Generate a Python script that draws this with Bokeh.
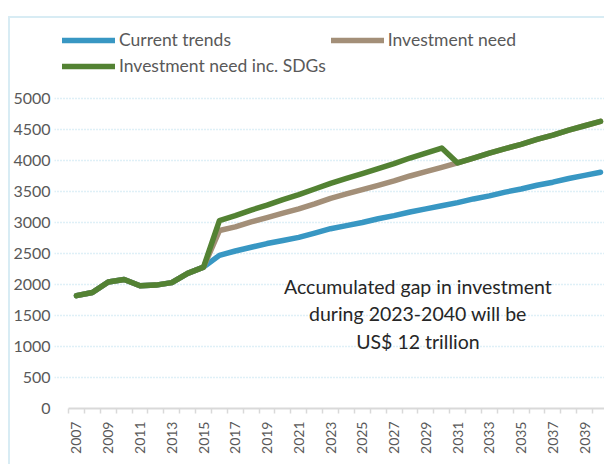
import math
from bokeh.plotting import figure
from bokeh.models import (Range1d, FixedTicker, Legend, LegendItem, Label,
                          ColumnDataSource)
from bokeh.embed import file_html
from bokeh.resources import INLINE

# ---------------- data ----------------
years = list(range(2007, 2041))
history = [1820, 1870, 2040, 2080, 1980, 1990, 2030, 2180, 2280]  # 2007-2015

current_trends = history + [2470, 2540, 2600, 2660, 2710, 2760, 2830, 2900,
                            2950, 3000, 3060, 3110, 3170, 3220, 3270, 3320,
                            3380, 3430, 3490, 3540, 3600, 3650, 3710, 3760, 3810]
investment_need = history + [2870, 2930, 3010, 3080, 3150, 3220, 3300, 3390,
                             3460, 3530, 3600, 3670, 3750, 3820, 3890, 3960,
                             4040, 4120, 4190, 4260, 4340, 4410, 4490, 4560, 4630]
need_sdgs = history + [3030, 3110, 3200, 3280, 3370, 3450, 3540, 3630,
                       3710, 3790, 3870, 3950, 4040, 4120, 4200, 3960,
                       4040, 4120, 4190, 4260, 4340, 4410, 4490, 4560, 4630]

series_names = ["Current trends", "Investment need", "Investment need inc. SDGs"]
series_colors = ["#3897c3", "#a38f78", "#538233"]
label_years = list(range(2007, 2040, 2))
y_ticks = list(range(0, 5001, 500))
note_lines = ["Accumulated gap in investment", "during 2023-2040 will be",
              "US$ 12 trillion"]

FONT = "Lato"
GRAY = "#595959"
EDGE = "#d8ecf4"

# frame extends above the 5000 line so that the legend sits inside it
p = figure(width=604, height=464, output_backend="svg",
           toolbar_location=None,
           x_range=Range1d(2005.615, 2040.25), y_range=Range1d(0, 6161),
           min_border_left=54, min_border_right=0, min_border_top=26,
           min_border_bottom=56)
# thin light-blue chart-area edge (top and left), drawn behind a transparent canvas
p.styles = {"background": (f"linear-gradient({EDGE},{EDGE}) 8px 16px / 100% 2px no-repeat, "
                           f"linear-gradient({EDGE},{EDGE}) 8px 16px / 2px 100% no-repeat, "
                           "white")}
p.outline_line_color = None
p.background_fill_color = "white"
p.border_fill_color = None

# grid
p.xgrid.grid_line_color = None
p.ygrid.ticker = FixedTicker(ticks=y_ticks[1:])
p.ygrid.bounds = (2006.5, 2040.5)
p.ygrid.grid_line_color = "#bfe0ee"
p.ygrid.grid_line_dash = "1 2"
p.ygrid.grid_line_width = 1.5

# y axis
p.yaxis.ticker = FixedTicker(ticks=y_ticks)
p.yaxis.axis_line_color = None
p.yaxis.major_tick_line_color = None
p.yaxis.minor_tick_line_color = None
p.yaxis.major_tick_out = 0
p.yaxis.major_label_standoff = 4
p.yaxis.major_label_text_font = FONT
p.yaxis.major_label_text_font_size = "16px"
p.yaxis.major_label_text_color = GRAY

# x axis
p.xaxis.bounds = (2006.5, 2040.5)
p.xaxis.ticker = FixedTicker(ticks=label_years,
                             minor_ticks=[y - 0.5 for y in years] + [2040.5])
p.xaxis.axis_line_color = "#d9d9d9"
p.xaxis.axis_line_width = 2
p.xaxis.major_tick_line_alpha = 0
p.xaxis.major_tick_in = 0
p.xaxis.major_tick_out = 5
p.xaxis.minor_tick_line_color = "#d9d9d9"
p.xaxis.minor_tick_line_width = 1.5
p.xaxis.minor_tick_in = 0
p.xaxis.minor_tick_out = 5
p.xaxis.major_label_orientation = math.pi / 2
p.xaxis.major_label_standoff = 8
p.xaxis.major_label_text_font = FONT
p.xaxis.major_label_text_font_size = "14px"
p.xaxis.major_label_text_color = GRAY

renderers = []
for vals, col in zip([current_trends, investment_need, need_sdgs], series_colors):
    src = ColumnDataSource(dict(x=years, y=vals))
    r = p.line("x", "y", source=src, line_color=col, line_width=5.5,
               line_cap="round", line_join="round")
    renderers.append(r)

legend = Legend(items=[LegendItem(label=n, renderers=[r])
                       for n, r in zip(series_names, renderers)],
                location=(8, 332), orientation="horizontal", ncols=2,
                padding=0, margin=0, spacing=5, glyph_width=53,
                glyph_height=20, label_height=20, label_standoff=4,
                label_text_font=FONT, label_text_font_size="17.5px",
                label_text_color=GRAY, border_line_alpha=0,
                background_fill_alpha=0)
p.add_layout(legend, "center")

note = Label(x=2028.5, y=1530, text="\n".join(note_lines),
             text_align="center", text_baseline="middle",
             text_font=FONT, text_font_size="19.5px", text_color="#262626",
             text_line_height=1.2)
p.add_layout(note)

open("out.html", "w").write(file_html(p, INLINE))
